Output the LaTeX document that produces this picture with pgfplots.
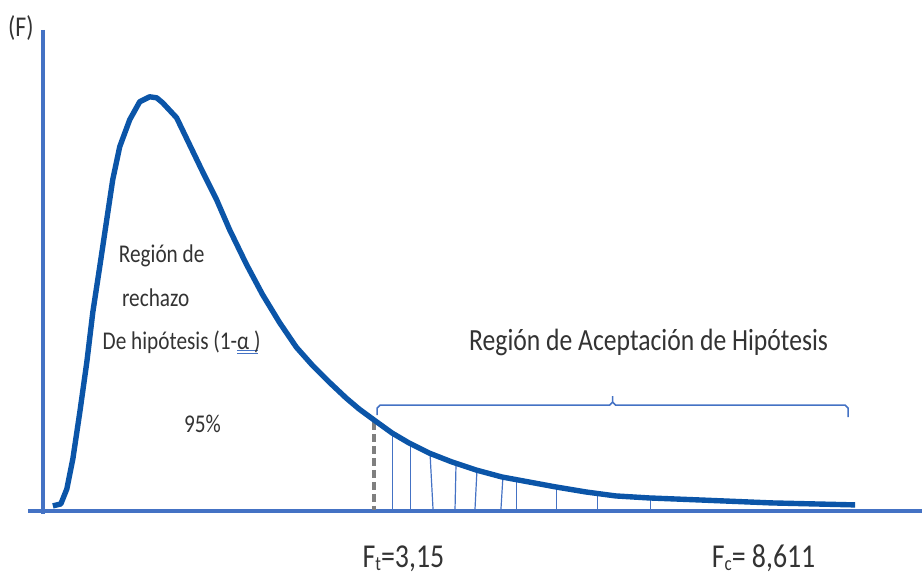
\documentclass[border=0pt]{standalone}
\usepackage{pgfplots}
\pgfplotsset{compat=1.18}
\usepackage{graphicx}
\usepackage{fontspec}
\setmainfont{Carlito}
\definecolor{axisblue}{HTML}{4472C4}
\definecolor{curveblue}{HTML}{0B55A8}
\definecolor{txt}{HTML}{333333}
\definecolor{dgray}{HTML}{7F7F7F}
\newcommand{\st}[1]{\scalebox{1}[1.2]{#1}}
\newcommand{\sub}[1]{\raisebox{-0.2ex}{\fontsize{8.5}{8.5}\selectfont #1}}
\begin{document}
\begin{tikzpicture}
\begin{axis}[x=0.5bp, y=0.5bp, xmin=0, xmax=924, ymin=0, ymax=579,
  y dir=reverse, hide axis, clip=false, scale only axis]
\path (axis cs:0,0) rectangle (axis cs:924,579);
% axes
\addplot[axisblue, line width=2bp] coordinates {(43,30) (43,515)};
\addplot[axisblue, line width=2bp] coordinates {(28,512) (924,512)};
% hatch lines in the tail
\addplot[axisblue, line width=0.6bp] coordinates {(393,434) (393,511)};
\addplot[axisblue, line width=0.6bp] coordinates {(411,445) (411,511)};
\addplot[axisblue, line width=0.6bp] coordinates {(431,455) (434,511)};
\addplot[axisblue, line width=0.6bp] coordinates {(457,465) (456,511)};
\addplot[axisblue, line width=0.6bp] coordinates {(478,471) (476,511)};
\addplot[axisblue, line width=0.6bp] coordinates {(504,478) (502,511)};
\addplot[axisblue, line width=0.6bp] coordinates {(518,481) (518,511)};
\addplot[axisblue, line width=0.6bp] coordinates {(558,488) (558,511)};
\addplot[axisblue, line width=0.6bp] coordinates {(599,495) (599,511)};
\addplot[axisblue, line width=0.6bp] coordinates {(652,499) (652,511)};
% critical value dashed line
\addplot[dgray, line width=2bp, dash pattern=on 4bp off 2bp] coordinates {(375,423) (375,511)};
% density curve
\addplot[curveblue, line width=2.7bp, line join=round] coordinates {
(53,507) (61,505) (67,490) (73,460) (80,413) (87,363) (93,313) (100,267)
(107,220) (113,180) (120,147) (130,120) (140,102) (150,97) (157,98) (163,103)
(177,118) (190,145) (203,172) (217,200) (230,230) (247,265) (263,295)
(280,323) (297,348) (313,366) (330,383) (347,399) (360,410) (375,421)
(393,434) (410,444) (430,454) (453,463) (477,471) (503,478) (530,483)
(557,488) (587,493) (617,497) (650,499) (700,501) (773,504) (857,506)};
% bracket
\addplot[axisblue, line width=0.8bp] coordinates {(378,416) (378,409) (381,406) (611,406) (614,403) (614,397)};
\addplot[axisblue, line width=0.8bp] coordinates {(614,403) (617,406) (847,406) (850,409) (850,418)};
% alpha double underline
\addplot[axisblue, line width=0.4bp] coordinates {(238,351) (259,351)};
\addplot[axisblue, line width=0.4bp] coordinates {(238,354.5) (259,354.5)};
% labels
\node[text=txt, font=\fontsize{12}{12}\selectfont] at (axis cs:21,28) {\st{(F)}};
\node[text=txt, font=\fontsize{10.7}{12}\selectfont] at (axis cs:162,256) {\st{Región de}};
\node[text=txt, font=\fontsize{10.7}{12}\selectfont] at (axis cs:156,298) {\st{rechazo}};
\node[text=txt, font=\fontsize{10.7}{12}\selectfont] at (axis cs:182,343) {\st{De hipótesis (1-α )}};
\node[text=txt, font=\fontsize{10.7}{12}\selectfont] at (axis cs:203,425) {\st{95\%}};
\node[text=txt, font=\fontsize{12.9}{14}\selectfont] at (axis cs:650,343) {\st{Región de Aceptación de Hipótesis}};
\node[text=txt, font=\fontsize{14}{14}\selectfont, anchor=base west, inner sep=0pt] at (axis cs:363,569) {\st{F\sub{t}=3,15}};
\node[text=txt, font=\fontsize{14}{14}\selectfont, anchor=base west, inner sep=0pt] at (axis cs:713,569) {\st{F\sub{c}= 8,611}};
\end{axis}
\end{tikzpicture}
\end{document}
